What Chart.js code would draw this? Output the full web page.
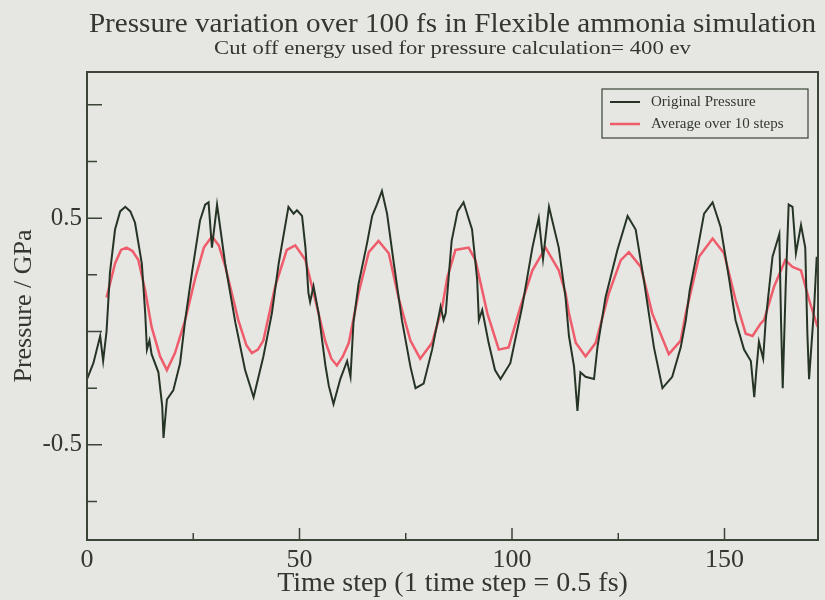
<!DOCTYPE html>
<html>
<head>
<meta charset="utf-8">
<script src="https://cdn.jsdelivr.net/npm/chart.js@4"></script>
<style>
  html, body { margin: 0; padding: 0; background: #e6e7e2; }
  canvas { display: block; }
</style>
</head>
<body>
<canvas id="pressureChart" width="825" height="600"></canvas>
<script>
// ==========================
// DATA
// ==========================
const chartTitle = "Pressure variation over 100 fs in Flexible ammonia simulation";
const chartSubtitle = "Cut off energy used for pressure calculation= 400 ev";
const seriesNames = ["Original Pressure", "Average over 10 steps"];

// time step -> pressure (GPa), original signal
const origSteps = [0, 1.5, 3.1, 3.8, 4.6, 5.4, 6.6, 7.8, 9.0, 10.2, 11.3, 12.9, 13.7, 14.1, 14.7, 15.2, 16.8, 17.7, 18.0, 18.8,
  20.3, 21.9, 23.1, 24.7, 26.6, 27.8, 28.6, 29.4, 30.6, 32.5, 34.9, 37.2, 39.2, 41.5, 43.5, 45.1, 47.4, 48.6, 49.4, 50.6,
  51.4, 52.1, 52.5, 53.3, 54.5, 56.1, 56.9, 58.0, 59.6, 61.2, 62.0, 62.7, 63.9, 65.9, 67.1, 68.2, 69.4, 70.6, 72.2, 74.1,
  76.1, 77.3, 79.2, 81.2, 83.2, 83.9, 84.4, 85.8, 87.2, 88.6, 90.6, 91.8, 92.2, 93.0, 94.5, 96.0, 97.3, 99.6, 102.4, 104.8,
  106.3, 107.3, 108.7, 111.0, 112.6, 113.4, 114.6, 115.4, 116.1, 117.3, 119.3, 120.1, 122.0, 124.8, 127.2, 129.1, 131.0, 133.4, 135.4, 137.7,
  139.7, 140.9, 141.8, 143.2, 145.2, 147.2, 149.1, 151.1, 152.6, 154.6, 156.2, 157.0, 157.5, 158.1, 159.1, 159.7, 161.3, 162.9, 163.3, 163.7,
  164.4, 165.1, 166.0, 166.8, 168.0, 169.0, 169.5, 169.9, 171.1, 171.7];
const origValues = [-0.21, -0.14, -0.02, -0.13, 0.0, 0.26, 0.45, 0.53, 0.55, 0.53, 0.48, 0.30, 0.08, -0.08, -0.04, -0.10, -0.18, -0.33, -0.47, -0.30,
  -0.26, -0.14, 0.05, 0.26, 0.49, 0.56, 0.57, 0.37, 0.56, 0.30, 0.04, -0.17, -0.29, -0.11, 0.08, 0.30, 0.55, 0.52, 0.535, 0.51,
  0.37, 0.17, 0.13, 0.20, 0.08, -0.15, -0.24, -0.32, -0.21, -0.13, -0.20, 0.04, 0.21, 0.39, 0.51, 0.56, 0.62, 0.52, 0.30, 0.05,
  -0.155, -0.25, -0.23, -0.08, 0.11, 0.05, 0.08, 0.40, 0.53, 0.57, 0.45, 0.23, 0.05, 0.095, -0.05, -0.17, -0.21, -0.14, 0.11, 0.37,
  0.50, 0.32, 0.55, 0.37, 0.15, -0.02, -0.155, -0.35, -0.18, -0.20, -0.21, -0.07, 0.15, 0.36, 0.51, 0.45, 0.23, -0.07, -0.25, -0.20,
  -0.07, 0.05, 0.18, 0.315, 0.52, 0.57, 0.46, 0.23, 0.05, -0.08, -0.13, -0.29, -0.17, -0.045, -0.12, 0.05, 0.33, 0.43, 0.05, -0.25,
  0.20, 0.56, 0.55, 0.345, 0.47, 0.37, -0.01, -0.21, 0.11, 0.33];

// running average over 10 steps
const avgSteps = [4.6, 6.6, 8.0, 9.3, 10.7, 12.1, 13.7, 15.2, 17.2, 18.8, 20.7, 23.1, 25.4, 27.5, 29.4, 31.0, 32.5, 35.6, 37.5, 38.8,
  40.2, 41.5, 44.3, 47.0, 49.0, 51.4, 53.7, 56.1, 57.5, 58.8, 60.2, 61.6, 63.9, 66.3, 68.6, 71.0, 73.3, 76.1, 78.4, 81.2,
  83.6, 84.8, 86.7, 89.8, 91.4, 94.2, 96.9, 99.2, 102.0, 104.8, 107.9, 111.0, 112.6, 113.4, 115.0, 117.3, 119.7, 122.8, 125.6, 127.5,
  130.3, 133.0, 136.9, 139.7, 140.9, 144.0, 147.2, 149.9, 152.6, 155.0, 156.6, 158.5, 159.3, 161.7, 164.3, 166.0, 168.0, 169.9, 171.9];
const avgValues = [0.15, 0.30, 0.36, 0.37, 0.355, 0.315, 0.18, 0.02, -0.11, -0.17, -0.095, 0.05, 0.23, 0.37, 0.42, 0.38, 0.29, 0.05, -0.06, -0.095,
  -0.08, -0.04, 0.20, 0.36, 0.38, 0.315, 0.14, -0.045, -0.12, -0.15, -0.11, -0.05, 0.17, 0.35, 0.40, 0.345, 0.15, -0.04, -0.12, -0.05,
  0.11, 0.24, 0.36, 0.37, 0.315, 0.08, -0.08, -0.07, 0.11, 0.27, 0.37, 0.27, 0.17, 0.08, -0.05, -0.11, -0.05, 0.17, 0.315, 0.35,
  0.285, 0.08, -0.10, -0.04, 0.08, 0.33, 0.41, 0.345, 0.14, -0.01, -0.02, 0.035, 0.05, 0.20, 0.315, 0.285, 0.27, 0.14, 0.02];

const xLabels = [0, 50, 100, 150];
const yLabels = [0.5, -0.5];

// ==========================
// STYLE
// ==========================
const SERIF = "'Liberation Serif', 'DejaVu Serif', serif";
const TEXT = "#333631";
const FRAME = "#3b4436";
const COLORS = ["#263426", "#ef5c6c"];

const pts = (xs, ys) => xs.map((x, i) => ({ x: x, y: ys[i] }));

// titles centred over the plot area (the scan is a bit stretched sideways)
const titlePlugin = {
  id: "titleText",
  afterDraw(chart) {
    const { ctx, chartArea } = chart;
    const cx = (chartArea.left + chartArea.right) / 2;
    const line = (text, size, y, sx) => {
      ctx.save();
      ctx.translate(cx, y);
      ctx.scale(sx, 1);
      ctx.font = size + "px " + SERIF;
      ctx.fillText(text, 0, 0);
      ctx.restore();
    };
    ctx.save();
    ctx.fillStyle = TEXT;
    ctx.textAlign = "center";
    ctx.textBaseline = "middle";
    line(chartTitle, 27, 25, 1.08);
    line(chartSubtitle, 18, 49, 1.26);
    ctx.restore();
  }
};

// box frame + inward tick marks
const framePlugin = {
  id: "frameTicks",
  afterDatasetsDraw(chart) {
    const { ctx, chartArea: a, scales } = chart;
    ctx.save();
    ctx.strokeStyle = FRAME;
    ctx.lineWidth = 2;
    ctx.strokeRect(a.left, a.top, a.right - a.left, a.bottom - a.top);
    ctx.lineWidth = 1.5;
    ctx.beginPath();
    scales.x.ticks.forEach(t => {
      const px = scales.x.getPixelForValue(t.value);
      const len = t.value % 50 === 0 ? 12 : 7;
      ctx.moveTo(px, a.bottom);
      ctx.lineTo(px, a.bottom - len);
    });
    scales.y.ticks.forEach(t => {
      const py = scales.y.getPixelForValue(t.value);
      const major = Math.abs(t.value * 2 - Math.round(t.value * 2)) < 1e-6;
      ctx.moveTo(a.left, py);
      ctx.lineTo(a.left + (major ? 15 : 10), py);
    });
    ctx.stroke();
    ctx.restore();
  }
};

// legend box in the upper right corner
const legendPlugin = {
  id: "boxLegend",
  afterDraw(chart) {
    const { ctx, chartArea: a } = chart;
    const w = 206, h = 49;
    const x0 = a.right - 10 - w, y0 = a.top + 17;
    ctx.save();
    ctx.fillStyle = "#e6e7e2";
    ctx.fillRect(x0, y0, w, h);
    ctx.strokeStyle = FRAME;
    ctx.lineWidth = 1.2;
    ctx.strokeRect(x0, y0, w, h);
    ctx.font = "15px " + SERIF;
    ctx.textBaseline = "middle";
    chart.data.datasets.forEach((ds, i) => {
      const y = y0 + 13 + i * 22;
      ctx.strokeStyle = ds.borderColor;
      ctx.lineWidth = ds.borderWidth;
      ctx.beginPath();
      ctx.moveTo(x0 + 8, y);
      ctx.lineTo(x0 + 38, y);
      ctx.stroke();
      ctx.fillStyle = TEXT;
      ctx.fillText(ds.label, x0 + 49, y);
    });
    ctx.restore();
  }
};

new Chart(document.getElementById("pressureChart"), {
  type: "line",
  data: {
    datasets: [
      {
        label: seriesNames[0],
        data: pts(origSteps, origValues),
        borderColor: COLORS[0],
        borderWidth: 2,
        pointRadius: 0,
        tension: 0
      },
      {
        label: seriesNames[1],
        data: pts(avgSteps, avgValues),
        borderColor: COLORS[1],
        borderWidth: 2.5,
        pointRadius: 0,
        tension: 0
      }
    ]
  },
  options: {
    responsive: false,
    animation: false,
    devicePixelRatio: 1,
    layout: { padding: { top: 72, right: 7, bottom: 0, left: 0 } },
    plugins: {
      legend: { display: false },
      tooltip: { enabled: false }
    },
    scales: {
      x: {
        type: "linear",
        min: 0,
        max: 172,
        grid: { display: false, drawTicks: false },
        border: { display: false },
        ticks: {
          stepSize: 25,
          includeBounds: false,
          maxRotation: 0,
          padding: 5,
          color: TEXT,
          font: { family: SERIF, size: 26 },
          callback: v => xLabels.includes(v) ? String(v) : ""
        },
        title: {
          display: true,
          text: "Time step (1 time step = 0.5 fs)",
          color: TEXT,
          font: { family: SERIF, size: 28 },
          padding: { top: 0, bottom: 0 }
        },
        afterFit: s => { s.height = 60; }
      },
      y: {
        min: -0.92,
        max: 1.145,
        grid: { display: false, drawTicks: false },
        border: { display: false },
        ticks: {
          stepSize: 0.25,
          includeBounds: false,
          padding: 5,
          color: TEXT,
          font: { family: SERIF, size: 25 },
          callback: v => yLabels.some(l => Math.abs(l - v) < 1e-6) ? String(v) : ""
        },
        title: {
          display: true,
          text: "Pressure / GPa",
          color: TEXT,
          font: { family: SERIF, size: 26 },
          padding: { top: 9, bottom: 0 }
        },
        afterFit: s => { s.width = 87; }
      }
    }
  },
  plugins: [framePlugin, legendPlugin, titlePlugin]
});
</script>
</body>
</html>
